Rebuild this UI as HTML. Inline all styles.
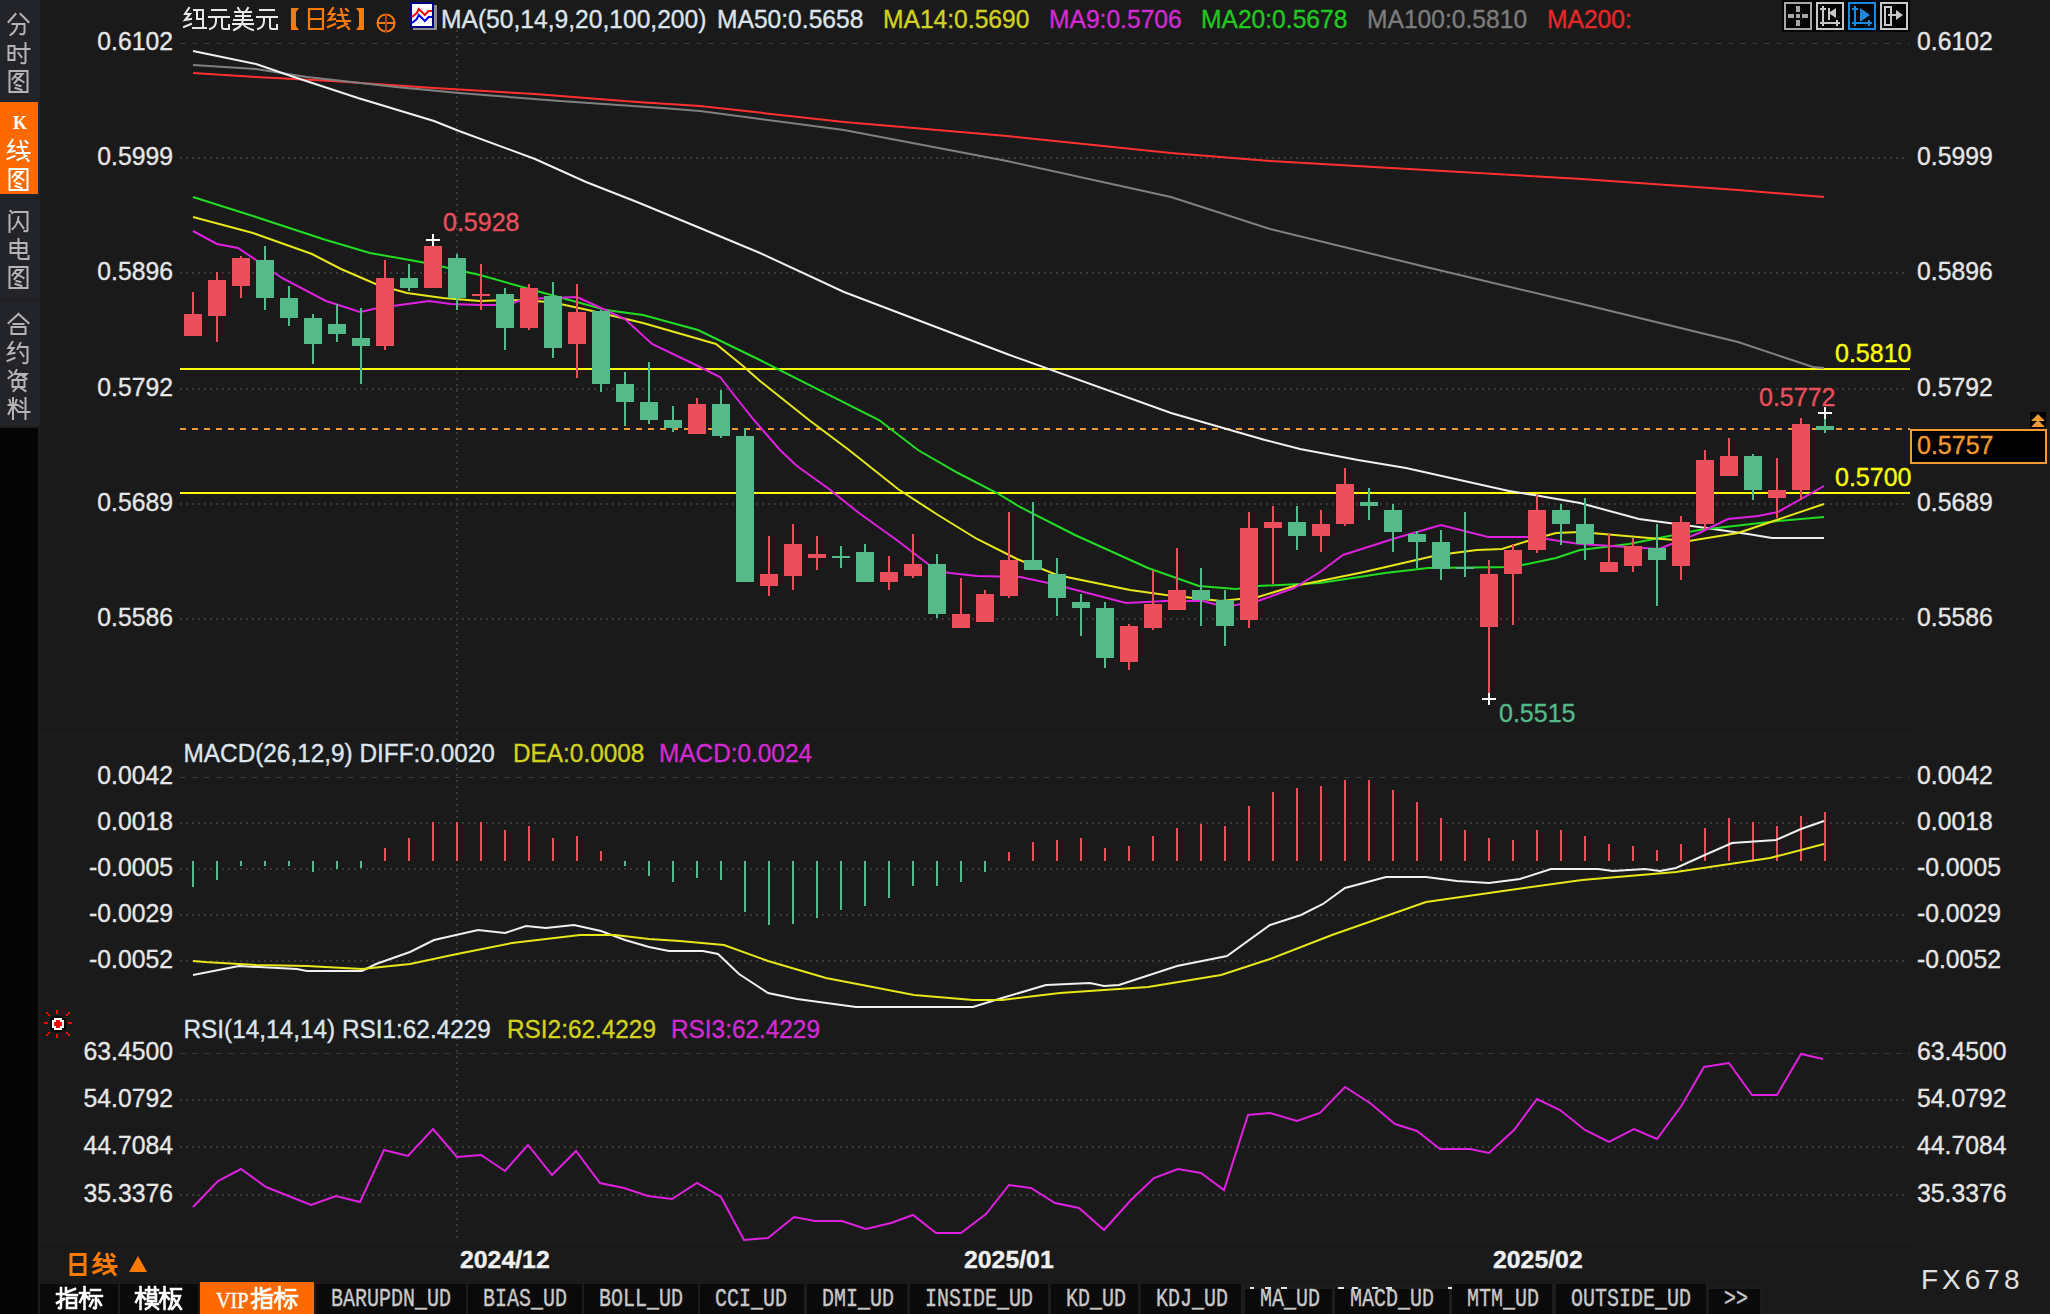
<!DOCTYPE html>
<html><head><meta charset="utf-8"><style>
html,body{margin:0;padding:0;background:#000;}
body{width:2050px;height:1314px;overflow:hidden;position:relative;font-family:"Liberation Sans",sans-serif;}
svg{position:absolute;left:0;top:0;}
</style></head><body>
<div style="position:absolute;left:0;top:0;width:38px;height:1314px;background:#000"></div>
<div style="position:absolute;left:0;top:0;width:38px;height:428px;background:#1a1a1a"></div>
<svg width="2050" height="1314" viewBox="0 0 2050 1314" style="left:0;top:0">
<rect x="0" y="0" width="2050" height="1314" fill="#1a1a1a"/>
<rect x="0" y="0" width="40" height="1314" fill="#1d1d1d"/>
<rect x="0" y="428" width="38" height="886" fill="#050505"/>
<rect x="38" y="734" width="1875" height="1" fill="#202020"/>
<rect x="38" y="1241" width="1875" height="1" fill="#222"/>
<line x1="180" y1="43.5" x2="1910" y2="43.5" stroke="#3a3a3a" stroke-width="1" stroke-dasharray="6 6"/>
<line x1="180" y1="158.0" x2="1908" y2="158.0" stroke="#383838" stroke-width="2" stroke-dasharray="2 4"/>
<line x1="180" y1="273.0" x2="1908" y2="273.0" stroke="#383838" stroke-width="2" stroke-dasharray="2 4"/>
<line x1="180" y1="389.0" x2="1908" y2="389.0" stroke="#383838" stroke-width="2" stroke-dasharray="2 4"/>
<line x1="180" y1="504.0" x2="1908" y2="504.0" stroke="#383838" stroke-width="2" stroke-dasharray="2 4"/>
<line x1="180" y1="619.0" x2="1908" y2="619.0" stroke="#383838" stroke-width="2" stroke-dasharray="2 4"/>
<line x1="180" y1="777.5" x2="1910" y2="777.5" stroke="#3a3a3a" stroke-width="1" stroke-dasharray="6 6"/>
<line x1="180" y1="823.0" x2="1908" y2="823.0" stroke="#383838" stroke-width="2" stroke-dasharray="2 4"/>
<line x1="180" y1="869.0" x2="1908" y2="869.0" stroke="#383838" stroke-width="2" stroke-dasharray="2 4"/>
<line x1="180" y1="915.0" x2="1908" y2="915.0" stroke="#383838" stroke-width="2" stroke-dasharray="2 4"/>
<line x1="180" y1="961.0" x2="1908" y2="961.0" stroke="#383838" stroke-width="2" stroke-dasharray="2 4"/>
<line x1="180" y1="1053.5" x2="1910" y2="1053.5" stroke="#3a3a3a" stroke-width="1" stroke-dasharray="6 6"/>
<line x1="180" y1="1100.0" x2="1908" y2="1100.0" stroke="#383838" stroke-width="2" stroke-dasharray="2 4"/>
<line x1="180" y1="1147.0" x2="1908" y2="1147.0" stroke="#383838" stroke-width="2" stroke-dasharray="2 4"/>
<line x1="180" y1="1195.0" x2="1908" y2="1195.0" stroke="#383838" stroke-width="2" stroke-dasharray="2 4"/>
<line x1="457" y1="30" x2="457" y2="1241" stroke="#3a3a3a" stroke-width="2" stroke-dasharray="2 4"/>
<rect x="180" y="368" width="1730" height="2" fill="#ffff00"/>
<rect x="180" y="492" width="1730" height="2" fill="#ffff00"/>
<line x1="180" y1="429" x2="1910" y2="429" stroke="#f39a30" stroke-width="2" stroke-dasharray="6 6"/>
<polyline points="193,73 256,77 332,81 434,88 535,94 637,102 700,106 844,122 1007,136 1171,153 1270,161 1426,170 1582,179 1738,190 1824,197" fill="none" stroke="#ff3030" stroke-width="2"/>
<polyline points="193,65 256,69 307,77 396,87 459,93 560,101 662,108 700,111 844,130 1007,161 1171,197 1270,229 1426,267 1582,304 1738,342 1813,367 1824,368" fill="none" stroke="#808080" stroke-width="2"/>
<polyline points="193,51 256,64 294,77 358,98 434,121 459,131 535,159 586,182 637,202 700,228 760,253 844,292 1007,354 1171,413 1265,440 1300,449 1358,460 1406,468 1509,491 1534,495 1580,503 1639,519 1699,527 1748,534 1772,538 1824,538" fill="none" stroke="#f0f0f0" stroke-width="2"/>
<polyline points="193,197 253,216 326,240 370,253 421,262 480,275 533,290 606,310 643,315 698,330 760,360 879,420 918,450 958,473 997,493 1020,507 1075,535 1148,568 1199,586 1236,589 1258,586 1320,583 1385,573 1428,568 1513,567 1556,558 1580,550 1629,544 1699,530 1778,521 1824,517" fill="none" stroke="#22dd22" stroke-width="2"/>
<polyline points="193,217 253,233 312,254 341,269 378,285 407,293 443,298 480,301 512,300 551,302 588,310 643,323 716,344 743,366 760,381 809,420 849,450 898,489 938,515 977,539 1017,559 1057,575 1130,590 1166,595 1221,601 1258,597 1294,586 1320,581 1364,572 1438,555 1477,550 1502,549 1534,539 1556,533 1580,532 1649,538 1689,541 1738,533 1824,504" fill="none" stroke="#e6e619" stroke-width="2"/>
<polyline points="193,231 217,244 238,248 256,260 282,278 326,301 360,312 378,308 400,305 429,301 451,304 480,305 508,305 524,299 577,297 599,307 625,319 652,344 698,366 720,377 734,395 754,420 780,450 797,466 829,489 859,513 898,541 928,564 936,571 950,573 977,576 1020,577 1053,584 1126,603 1166,601 1203,601 1225,607 1258,601 1294,588 1320,572 1343,555 1396,538 1441,525 1488,537 1534,537 1566,542 1580,544 1659,549 1699,533 1728,519 1758,516 1778,512 1824,486" fill="none" stroke="#e020e0" stroke-width="2"/>
<rect x="192" y="292" width="2" height="44" fill="#eb4f5c"/>
<rect x="184" y="314" width="18" height="22" fill="#eb4f5c"/>
<rect x="216" y="272" width="2" height="70" fill="#eb4f5c"/>
<rect x="208" y="280" width="18" height="36" fill="#eb4f5c"/>
<rect x="240" y="256" width="2" height="42" fill="#eb4f5c"/>
<rect x="232" y="258" width="18" height="28" fill="#eb4f5c"/>
<rect x="264" y="246" width="2" height="64" fill="#55b98a"/>
<rect x="256" y="260" width="18" height="38" fill="#55b98a"/>
<rect x="288" y="286" width="2" height="40" fill="#55b98a"/>
<rect x="280" y="298" width="18" height="20" fill="#55b98a"/>
<rect x="312" y="314" width="2" height="50" fill="#55b98a"/>
<rect x="304" y="318" width="18" height="26" fill="#55b98a"/>
<rect x="336" y="304" width="2" height="38" fill="#55b98a"/>
<rect x="328" y="324" width="18" height="10" fill="#55b98a"/>
<rect x="360" y="308" width="2" height="76" fill="#55b98a"/>
<rect x="352" y="338" width="18" height="8" fill="#55b98a"/>
<rect x="384" y="260" width="2" height="90" fill="#eb4f5c"/>
<rect x="376" y="278" width="18" height="68" fill="#eb4f5c"/>
<rect x="408" y="264" width="2" height="27" fill="#55b98a"/>
<rect x="400" y="278" width="18" height="10" fill="#55b98a"/>
<rect x="432" y="242" width="2" height="46" fill="#eb4f5c"/>
<rect x="424" y="246" width="18" height="42" fill="#eb4f5c"/>
<rect x="456" y="254" width="2" height="56" fill="#55b98a"/>
<rect x="448" y="258" width="18" height="40" fill="#55b98a"/>
<rect x="480" y="264" width="2" height="46" fill="#eb4f5c"/>
<rect x="472" y="294" width="18" height="2" fill="#eb4f5c"/>
<rect x="504" y="288" width="2" height="62" fill="#55b98a"/>
<rect x="496" y="294" width="18" height="34" fill="#55b98a"/>
<rect x="528" y="284" width="2" height="46" fill="#eb4f5c"/>
<rect x="520" y="288" width="18" height="40" fill="#eb4f5c"/>
<rect x="552" y="282" width="2" height="76" fill="#55b98a"/>
<rect x="544" y="296" width="18" height="52" fill="#55b98a"/>
<rect x="576" y="284" width="2" height="94" fill="#eb4f5c"/>
<rect x="568" y="312" width="18" height="32" fill="#eb4f5c"/>
<rect x="600" y="310" width="2" height="82" fill="#55b98a"/>
<rect x="592" y="311" width="18" height="73" fill="#55b98a"/>
<rect x="624" y="372" width="2" height="54" fill="#55b98a"/>
<rect x="616" y="384" width="18" height="18" fill="#55b98a"/>
<rect x="648" y="362" width="2" height="62" fill="#55b98a"/>
<rect x="640" y="402" width="18" height="18" fill="#55b98a"/>
<rect x="672" y="406" width="2" height="26" fill="#55b98a"/>
<rect x="664" y="420" width="18" height="8" fill="#55b98a"/>
<rect x="696" y="398" width="2" height="36" fill="#eb4f5c"/>
<rect x="688" y="404" width="18" height="30" fill="#eb4f5c"/>
<rect x="720" y="390" width="2" height="48" fill="#55b98a"/>
<rect x="712" y="404" width="18" height="32" fill="#55b98a"/>
<rect x="744" y="428" width="2" height="154" fill="#55b98a"/>
<rect x="736" y="436" width="18" height="146" fill="#55b98a"/>
<rect x="768" y="536" width="2" height="60" fill="#eb4f5c"/>
<rect x="760" y="574" width="18" height="12" fill="#eb4f5c"/>
<rect x="792" y="524" width="2" height="66" fill="#eb4f5c"/>
<rect x="784" y="544" width="18" height="32" fill="#eb4f5c"/>
<rect x="816" y="536" width="2" height="34" fill="#eb4f5c"/>
<rect x="808" y="554" width="18" height="4" fill="#eb4f5c"/>
<rect x="840" y="546" width="2" height="22" fill="#55b98a"/>
<rect x="832" y="556" width="18" height="2" fill="#55b98a"/>
<rect x="864" y="544" width="2" height="38" fill="#55b98a"/>
<rect x="856" y="552" width="18" height="30" fill="#55b98a"/>
<rect x="888" y="556" width="2" height="34" fill="#eb4f5c"/>
<rect x="880" y="572" width="18" height="10" fill="#eb4f5c"/>
<rect x="912" y="534" width="2" height="44" fill="#eb4f5c"/>
<rect x="904" y="564" width="18" height="12" fill="#eb4f5c"/>
<rect x="936" y="554" width="2" height="64" fill="#55b98a"/>
<rect x="928" y="564" width="18" height="50" fill="#55b98a"/>
<rect x="960" y="578" width="2" height="50" fill="#eb4f5c"/>
<rect x="952" y="614" width="18" height="14" fill="#eb4f5c"/>
<rect x="984" y="590" width="2" height="32" fill="#eb4f5c"/>
<rect x="976" y="594" width="18" height="28" fill="#eb4f5c"/>
<rect x="1008" y="512" width="2" height="86" fill="#eb4f5c"/>
<rect x="1000" y="560" width="18" height="36" fill="#eb4f5c"/>
<rect x="1032" y="502" width="2" height="68" fill="#55b98a"/>
<rect x="1024" y="560" width="18" height="10" fill="#55b98a"/>
<rect x="1056" y="558" width="2" height="58" fill="#55b98a"/>
<rect x="1048" y="574" width="18" height="24" fill="#55b98a"/>
<rect x="1080" y="594" width="2" height="42" fill="#55b98a"/>
<rect x="1072" y="602" width="18" height="6" fill="#55b98a"/>
<rect x="1104" y="602" width="2" height="66" fill="#55b98a"/>
<rect x="1096" y="608" width="18" height="50" fill="#55b98a"/>
<rect x="1128" y="624" width="2" height="46" fill="#eb4f5c"/>
<rect x="1120" y="626" width="18" height="36" fill="#eb4f5c"/>
<rect x="1152" y="570" width="2" height="60" fill="#eb4f5c"/>
<rect x="1144" y="604" width="18" height="24" fill="#eb4f5c"/>
<rect x="1176" y="548" width="2" height="62" fill="#eb4f5c"/>
<rect x="1168" y="590" width="18" height="20" fill="#eb4f5c"/>
<rect x="1200" y="568" width="2" height="58" fill="#55b98a"/>
<rect x="1192" y="590" width="18" height="10" fill="#55b98a"/>
<rect x="1224" y="590" width="2" height="56" fill="#55b98a"/>
<rect x="1216" y="600" width="18" height="26" fill="#55b98a"/>
<rect x="1248" y="512" width="2" height="116" fill="#eb4f5c"/>
<rect x="1240" y="528" width="18" height="92" fill="#eb4f5c"/>
<rect x="1272" y="506" width="2" height="78" fill="#eb4f5c"/>
<rect x="1264" y="522" width="18" height="6" fill="#eb4f5c"/>
<rect x="1296" y="506" width="2" height="44" fill="#55b98a"/>
<rect x="1288" y="522" width="18" height="14" fill="#55b98a"/>
<rect x="1320" y="510" width="2" height="42" fill="#eb4f5c"/>
<rect x="1312" y="524" width="18" height="12" fill="#eb4f5c"/>
<rect x="1344" y="468" width="2" height="58" fill="#eb4f5c"/>
<rect x="1336" y="484" width="18" height="40" fill="#eb4f5c"/>
<rect x="1368" y="488" width="2" height="32" fill="#55b98a"/>
<rect x="1360" y="502" width="18" height="4" fill="#55b98a"/>
<rect x="1392" y="504" width="2" height="48" fill="#55b98a"/>
<rect x="1384" y="510" width="18" height="22" fill="#55b98a"/>
<rect x="1416" y="531" width="2" height="37" fill="#55b98a"/>
<rect x="1408" y="534" width="18" height="8" fill="#55b98a"/>
<rect x="1440" y="530" width="2" height="50" fill="#55b98a"/>
<rect x="1432" y="542" width="18" height="27" fill="#55b98a"/>
<rect x="1464" y="512" width="2" height="65" fill="#55b98a"/>
<rect x="1456" y="567" width="18" height="2" fill="#55b98a"/>
<rect x="1488" y="560" width="2" height="139" fill="#eb4f5c"/>
<rect x="1480" y="574" width="18" height="53" fill="#eb4f5c"/>
<rect x="1512" y="544" width="2" height="81" fill="#eb4f5c"/>
<rect x="1504" y="550" width="18" height="24" fill="#eb4f5c"/>
<rect x="1536" y="495" width="2" height="58" fill="#eb4f5c"/>
<rect x="1528" y="510" width="18" height="40" fill="#eb4f5c"/>
<rect x="1560" y="504" width="2" height="41" fill="#55b98a"/>
<rect x="1552" y="510" width="18" height="14" fill="#55b98a"/>
<rect x="1584" y="498" width="2" height="62" fill="#55b98a"/>
<rect x="1576" y="524" width="18" height="20" fill="#55b98a"/>
<rect x="1608" y="534" width="2" height="38" fill="#eb4f5c"/>
<rect x="1600" y="562" width="18" height="10" fill="#eb4f5c"/>
<rect x="1632" y="538" width="2" height="34" fill="#eb4f5c"/>
<rect x="1624" y="546" width="18" height="20" fill="#eb4f5c"/>
<rect x="1656" y="524" width="2" height="82" fill="#55b98a"/>
<rect x="1648" y="548" width="18" height="12" fill="#55b98a"/>
<rect x="1680" y="516" width="2" height="64" fill="#eb4f5c"/>
<rect x="1672" y="522" width="18" height="44" fill="#eb4f5c"/>
<rect x="1704" y="450" width="2" height="79" fill="#eb4f5c"/>
<rect x="1696" y="460" width="18" height="64" fill="#eb4f5c"/>
<rect x="1728" y="438" width="2" height="38" fill="#eb4f5c"/>
<rect x="1720" y="456" width="18" height="20" fill="#eb4f5c"/>
<rect x="1752" y="454" width="2" height="46" fill="#55b98a"/>
<rect x="1744" y="456" width="18" height="34" fill="#55b98a"/>
<rect x="1776" y="458" width="2" height="60" fill="#eb4f5c"/>
<rect x="1768" y="490" width="18" height="8" fill="#eb4f5c"/>
<rect x="1800" y="418" width="2" height="82" fill="#eb4f5c"/>
<rect x="1792" y="424" width="18" height="66" fill="#eb4f5c"/>
<rect x="1824" y="413" width="2" height="20" fill="#55b98a"/>
<rect x="1816" y="426" width="18" height="4" fill="#55b98a"/>
<rect x="426" y="239" width="14" height="2" fill="#fff"/><rect x="432" y="234" width="2" height="12" fill="#fff"/>
<rect x="1482" y="698" width="14" height="2" fill="#fff"/><rect x="1488" y="693" width="2" height="12" fill="#fff"/>
<rect x="1818" y="412" width="14" height="2" fill="#fff"/><rect x="1824" y="407" width="2" height="12" fill="#fff"/>
<rect x="192" y="861" width="2" height="26" fill="#55b98a"/>
<rect x="216" y="861" width="2" height="19" fill="#55b98a"/>
<rect x="240" y="861" width="2" height="5" fill="#55b98a"/>
<rect x="264" y="861" width="2" height="5" fill="#55b98a"/>
<rect x="288" y="861" width="2" height="5" fill="#55b98a"/>
<rect x="312" y="861" width="2" height="11" fill="#55b98a"/>
<rect x="336" y="861" width="2" height="8" fill="#55b98a"/>
<rect x="360" y="861" width="2" height="7" fill="#55b98a"/>
<rect x="384" y="848" width="2" height="13" fill="#eb4f5c"/>
<rect x="408" y="838" width="2" height="23" fill="#eb4f5c"/>
<rect x="432" y="822" width="2" height="39" fill="#eb4f5c"/>
<rect x="456" y="822" width="2" height="39" fill="#eb4f5c"/>
<rect x="480" y="822" width="2" height="39" fill="#eb4f5c"/>
<rect x="504" y="830" width="2" height="31" fill="#eb4f5c"/>
<rect x="528" y="826" width="2" height="35" fill="#eb4f5c"/>
<rect x="552" y="838" width="2" height="23" fill="#eb4f5c"/>
<rect x="576" y="836" width="2" height="25" fill="#eb4f5c"/>
<rect x="600" y="851" width="2" height="10" fill="#eb4f5c"/>
<rect x="624" y="861" width="2" height="5" fill="#55b98a"/>
<rect x="648" y="861" width="2" height="15" fill="#55b98a"/>
<rect x="672" y="861" width="2" height="21" fill="#55b98a"/>
<rect x="696" y="861" width="2" height="17" fill="#55b98a"/>
<rect x="720" y="861" width="2" height="19" fill="#55b98a"/>
<rect x="744" y="861" width="2" height="51" fill="#55b98a"/>
<rect x="768" y="861" width="2" height="64" fill="#55b98a"/>
<rect x="792" y="861" width="2" height="63" fill="#55b98a"/>
<rect x="816" y="861" width="2" height="57" fill="#55b98a"/>
<rect x="840" y="861" width="2" height="49" fill="#55b98a"/>
<rect x="864" y="861" width="2" height="45" fill="#55b98a"/>
<rect x="888" y="861" width="2" height="37" fill="#55b98a"/>
<rect x="912" y="861" width="2" height="25" fill="#55b98a"/>
<rect x="936" y="861" width="2" height="25" fill="#55b98a"/>
<rect x="960" y="861" width="2" height="21" fill="#55b98a"/>
<rect x="984" y="861" width="2" height="11" fill="#55b98a"/>
<rect x="1008" y="852" width="2" height="9" fill="#eb4f5c"/>
<rect x="1032" y="842" width="2" height="19" fill="#eb4f5c"/>
<rect x="1056" y="840" width="2" height="21" fill="#eb4f5c"/>
<rect x="1080" y="838" width="2" height="23" fill="#eb4f5c"/>
<rect x="1104" y="848" width="2" height="13" fill="#eb4f5c"/>
<rect x="1128" y="846" width="2" height="15" fill="#eb4f5c"/>
<rect x="1152" y="836" width="2" height="25" fill="#eb4f5c"/>
<rect x="1176" y="828" width="2" height="33" fill="#eb4f5c"/>
<rect x="1200" y="824" width="2" height="37" fill="#eb4f5c"/>
<rect x="1224" y="826" width="2" height="35" fill="#eb4f5c"/>
<rect x="1248" y="806" width="2" height="55" fill="#eb4f5c"/>
<rect x="1272" y="792" width="2" height="69" fill="#eb4f5c"/>
<rect x="1296" y="788" width="2" height="73" fill="#eb4f5c"/>
<rect x="1320" y="786" width="2" height="75" fill="#eb4f5c"/>
<rect x="1344" y="780" width="2" height="81" fill="#eb4f5c"/>
<rect x="1368" y="780" width="2" height="81" fill="#eb4f5c"/>
<rect x="1392" y="790" width="2" height="71" fill="#eb4f5c"/>
<rect x="1416" y="802" width="2" height="59" fill="#eb4f5c"/>
<rect x="1440" y="818" width="2" height="43" fill="#eb4f5c"/>
<rect x="1464" y="830" width="2" height="31" fill="#eb4f5c"/>
<rect x="1488" y="838" width="2" height="23" fill="#eb4f5c"/>
<rect x="1512" y="840" width="2" height="21" fill="#eb4f5c"/>
<rect x="1536" y="830" width="2" height="31" fill="#eb4f5c"/>
<rect x="1560" y="830" width="2" height="31" fill="#eb4f5c"/>
<rect x="1584" y="836" width="2" height="25" fill="#eb4f5c"/>
<rect x="1608" y="844" width="2" height="17" fill="#eb4f5c"/>
<rect x="1632" y="846" width="2" height="15" fill="#eb4f5c"/>
<rect x="1656" y="850" width="2" height="11" fill="#eb4f5c"/>
<rect x="1680" y="844" width="2" height="17" fill="#eb4f5c"/>
<rect x="1704" y="828" width="2" height="33" fill="#eb4f5c"/>
<rect x="1728" y="818" width="2" height="43" fill="#eb4f5c"/>
<rect x="1752" y="822" width="2" height="39" fill="#eb4f5c"/>
<rect x="1776" y="826" width="2" height="35" fill="#eb4f5c"/>
<rect x="1800" y="816" width="2" height="45" fill="#eb4f5c"/>
<rect x="1824" y="812" width="2" height="49" fill="#eb4f5c"/>
<polyline points="193,975 239,966 297,969 307,971 362,971 376,964 410,952 434,940 478,930 505,933 526,926 546,928 574,925 601,931 625,940 649,947 669,951 703,951 718,954 739,974 768,993 797,999 856,1007 973,1007 1002,998 1046,985 1090,983 1104,986 1119,985 1177,966 1227,956 1270,925 1301,915 1323,904 1345,888 1386,877 1426,877 1457,881 1489,883 1520,879 1551,869 1598,869 1613,871 1645,869 1660,871 1676,868 1707,854 1732,843 1776,840 1801,829 1824,821" fill="none" stroke="#f0f0f0" stroke-width="2"/>
<polyline points="193,961 205,962 256,965 307,966 362,969 410,964 457,954 512,943 580,935 615,935 649,939 680,941 724,945 768,961 826,978 914,995 973,1000 1002,1000 1060,993 1148,987 1221,975 1270,959 1332,935 1426,902 1489,893 1582,880 1676,872 1723,865 1770,858 1824,844" fill="none" stroke="#e6e619" stroke-width="2"/>
<polyline points="193,1207 218,1181 241,1169 266,1187 311,1205 336,1196 360,1202 384,1150 408,1156 433,1129 457,1157 481,1155 505,1171 528,1145 552,1175 576,1151 600,1183 624,1188 648,1196 672,1199 697,1183 721,1197 744,1240 768,1238 794,1217 815,1221 842,1221 866,1229 891,1223 913,1215 936,1233 961,1233 986,1214 1009,1185 1031,1188 1055,1203 1079,1208 1104,1230 1131,1200 1154,1178 1178,1169 1201,1173 1224,1190 1248,1115 1270,1113 1297,1121 1320,1113 1345,1087 1370,1103 1395,1124 1417,1131 1440,1149 1470,1149 1489,1153 1514,1130 1537,1099 1560,1110 1585,1130 1609,1142 1634,1129 1657,1139 1682,1105 1704,1067 1729,1063 1752,1095 1777,1095 1801,1054 1823,1059" fill="none" stroke="#e020e0" stroke-width="2"/>
<text transform="translate(173 50) scale(0.99 1)" x="0" y="0" fill="#e6e6e6" stroke="#e6e6e6" stroke-width="0.35" font-size="25" text-anchor="end" font-weight="normal" font-family="Liberation Sans">0.6102</text>
<text transform="translate(1917 50) scale(0.99 1)" x="0" y="0" fill="#e6e6e6" stroke="#e6e6e6" stroke-width="0.35" font-size="25" text-anchor="start" font-weight="normal" font-family="Liberation Sans">0.6102</text>
<text transform="translate(173 165) scale(0.99 1)" x="0" y="0" fill="#e6e6e6" stroke="#e6e6e6" stroke-width="0.35" font-size="25" text-anchor="end" font-weight="normal" font-family="Liberation Sans">0.5999</text>
<text transform="translate(1917 165) scale(0.99 1)" x="0" y="0" fill="#e6e6e6" stroke="#e6e6e6" stroke-width="0.35" font-size="25" text-anchor="start" font-weight="normal" font-family="Liberation Sans">0.5999</text>
<text transform="translate(173 280) scale(0.99 1)" x="0" y="0" fill="#e6e6e6" stroke="#e6e6e6" stroke-width="0.35" font-size="25" text-anchor="end" font-weight="normal" font-family="Liberation Sans">0.5896</text>
<text transform="translate(1917 280) scale(0.99 1)" x="0" y="0" fill="#e6e6e6" stroke="#e6e6e6" stroke-width="0.35" font-size="25" text-anchor="start" font-weight="normal" font-family="Liberation Sans">0.5896</text>
<text transform="translate(173 396) scale(0.99 1)" x="0" y="0" fill="#e6e6e6" stroke="#e6e6e6" stroke-width="0.35" font-size="25" text-anchor="end" font-weight="normal" font-family="Liberation Sans">0.5792</text>
<text transform="translate(1917 396) scale(0.99 1)" x="0" y="0" fill="#e6e6e6" stroke="#e6e6e6" stroke-width="0.35" font-size="25" text-anchor="start" font-weight="normal" font-family="Liberation Sans">0.5792</text>
<text transform="translate(173 511) scale(0.99 1)" x="0" y="0" fill="#e6e6e6" stroke="#e6e6e6" stroke-width="0.35" font-size="25" text-anchor="end" font-weight="normal" font-family="Liberation Sans">0.5689</text>
<text transform="translate(1917 511) scale(0.99 1)" x="0" y="0" fill="#e6e6e6" stroke="#e6e6e6" stroke-width="0.35" font-size="25" text-anchor="start" font-weight="normal" font-family="Liberation Sans">0.5689</text>
<text transform="translate(173 626) scale(0.99 1)" x="0" y="0" fill="#e6e6e6" stroke="#e6e6e6" stroke-width="0.35" font-size="25" text-anchor="end" font-weight="normal" font-family="Liberation Sans">0.5586</text>
<text transform="translate(1917 626) scale(0.99 1)" x="0" y="0" fill="#e6e6e6" stroke="#e6e6e6" stroke-width="0.35" font-size="25" text-anchor="start" font-weight="normal" font-family="Liberation Sans">0.5586</text>
<text transform="translate(173 784) scale(0.99 1)" x="0" y="0" fill="#e6e6e6" stroke="#e6e6e6" stroke-width="0.35" font-size="25" text-anchor="end" font-weight="normal" font-family="Liberation Sans">0.0042</text>
<text transform="translate(1917 784) scale(0.99 1)" x="0" y="0" fill="#e6e6e6" stroke="#e6e6e6" stroke-width="0.35" font-size="25" text-anchor="start" font-weight="normal" font-family="Liberation Sans">0.0042</text>
<text transform="translate(173 830) scale(0.99 1)" x="0" y="0" fill="#e6e6e6" stroke="#e6e6e6" stroke-width="0.35" font-size="25" text-anchor="end" font-weight="normal" font-family="Liberation Sans">0.0018</text>
<text transform="translate(1917 830) scale(0.99 1)" x="0" y="0" fill="#e6e6e6" stroke="#e6e6e6" stroke-width="0.35" font-size="25" text-anchor="start" font-weight="normal" font-family="Liberation Sans">0.0018</text>
<text transform="translate(173 876) scale(0.99 1)" x="0" y="0" fill="#e6e6e6" stroke="#e6e6e6" stroke-width="0.35" font-size="25" text-anchor="end" font-weight="normal" font-family="Liberation Sans">-0.0005</text>
<text transform="translate(1917 876) scale(0.99 1)" x="0" y="0" fill="#e6e6e6" stroke="#e6e6e6" stroke-width="0.35" font-size="25" text-anchor="start" font-weight="normal" font-family="Liberation Sans">-0.0005</text>
<text transform="translate(173 922) scale(0.99 1)" x="0" y="0" fill="#e6e6e6" stroke="#e6e6e6" stroke-width="0.35" font-size="25" text-anchor="end" font-weight="normal" font-family="Liberation Sans">-0.0029</text>
<text transform="translate(1917 922) scale(0.99 1)" x="0" y="0" fill="#e6e6e6" stroke="#e6e6e6" stroke-width="0.35" font-size="25" text-anchor="start" font-weight="normal" font-family="Liberation Sans">-0.0029</text>
<text transform="translate(173 968) scale(0.99 1)" x="0" y="0" fill="#e6e6e6" stroke="#e6e6e6" stroke-width="0.35" font-size="25" text-anchor="end" font-weight="normal" font-family="Liberation Sans">-0.0052</text>
<text transform="translate(1917 968) scale(0.99 1)" x="0" y="0" fill="#e6e6e6" stroke="#e6e6e6" stroke-width="0.35" font-size="25" text-anchor="start" font-weight="normal" font-family="Liberation Sans">-0.0052</text>
<text transform="translate(173 1060) scale(0.99 1)" x="0" y="0" fill="#e6e6e6" stroke="#e6e6e6" stroke-width="0.35" font-size="25" text-anchor="end" font-weight="normal" font-family="Liberation Sans">63.4500</text>
<text transform="translate(1917 1060) scale(0.99 1)" x="0" y="0" fill="#e6e6e6" stroke="#e6e6e6" stroke-width="0.35" font-size="25" text-anchor="start" font-weight="normal" font-family="Liberation Sans">63.4500</text>
<text transform="translate(173 1107) scale(0.99 1)" x="0" y="0" fill="#e6e6e6" stroke="#e6e6e6" stroke-width="0.35" font-size="25" text-anchor="end" font-weight="normal" font-family="Liberation Sans">54.0792</text>
<text transform="translate(1917 1107) scale(0.99 1)" x="0" y="0" fill="#e6e6e6" stroke="#e6e6e6" stroke-width="0.35" font-size="25" text-anchor="start" font-weight="normal" font-family="Liberation Sans">54.0792</text>
<text transform="translate(173 1154) scale(0.99 1)" x="0" y="0" fill="#e6e6e6" stroke="#e6e6e6" stroke-width="0.35" font-size="25" text-anchor="end" font-weight="normal" font-family="Liberation Sans">44.7084</text>
<text transform="translate(1917 1154) scale(0.99 1)" x="0" y="0" fill="#e6e6e6" stroke="#e6e6e6" stroke-width="0.35" font-size="25" text-anchor="start" font-weight="normal" font-family="Liberation Sans">44.7084</text>
<text transform="translate(173 1202) scale(0.99 1)" x="0" y="0" fill="#e6e6e6" stroke="#e6e6e6" stroke-width="0.35" font-size="25" text-anchor="end" font-weight="normal" font-family="Liberation Sans">35.3376</text>
<text transform="translate(1917 1202) scale(0.99 1)" x="0" y="0" fill="#e6e6e6" stroke="#e6e6e6" stroke-width="0.35" font-size="25" text-anchor="start" font-weight="normal" font-family="Liberation Sans">35.3376</text>
<text x="443" y="231" fill="#eb4f5c" stroke="#eb4f5c" stroke-width="0.35" font-size="25" text-anchor="start" font-weight="normal" font-family="Liberation Sans">0.5928</text>
<text x="1499" y="722" fill="#55b98a" stroke="#55b98a" stroke-width="0.35" font-size="25" text-anchor="start" font-weight="normal" font-family="Liberation Sans">0.5515</text>
<text x="1759" y="406" fill="#eb4f5c" stroke="#eb4f5c" stroke-width="0.35" font-size="25" text-anchor="start" font-weight="normal" font-family="Liberation Sans">0.5772</text>
<text x="1835" y="362" fill="#ffff00" stroke="#ffff00" stroke-width="0.35" font-size="25" text-anchor="start" font-weight="normal" font-family="Liberation Sans">0.5810</text>
<text x="1835" y="486" fill="#ffff00" stroke="#ffff00" stroke-width="0.35" font-size="25" text-anchor="start" font-weight="normal" font-family="Liberation Sans">0.5700</text>
<rect x="1911" y="430" width="135" height="33" fill="#000" stroke="#f39a30" stroke-width="2"/>
<text x="1917" y="454" fill="#f39a30" stroke="#f39a30" stroke-width="0.35" font-size="25" text-anchor="start" font-weight="normal" font-family="Liberation Sans">0.5757</text>
<rect x="2030" y="412" width="16" height="16" fill="#000"/><path d="M2038 414 L2045 421 L2031 421 Z M2038 420 L2045 427 L2031 427 Z" fill="#f39a30"/>
<path transform="translate(183.00,7.00) scale(1.0000)" d="M6,1 L2,7 L7,7 L2,13 L8,12 M1,20 L8,17 M11,3 H20 V21 M14,3 V12 H20 M10,21 H23" fill="none" stroke="#e8e8e8" stroke-width="2.000" stroke-linecap="square" stroke-linejoin="miter"/>
<path transform="translate(207.00,7.00) scale(1.0000)" d="M5,3 H19 M2,10 H22 M9,10 V14 Q9,20 3,22 M15,10 V20 Q15,22 17,22 H22 V18" fill="none" stroke="#e8e8e8" stroke-width="2.000" stroke-linecap="square" stroke-linejoin="miter"/>
<path transform="translate(231.00,7.00) scale(1.0000)" d="M7,1 L9,4 M17,1 L15,4 M4,5 H20 M5,9 H19 M3,13 H21 M12,5 V13 M2,17 H22 M12,13 Q11,20 3,23 M12,17 Q15,21 22,23" fill="none" stroke="#e8e8e8" stroke-width="2.000" stroke-linecap="square" stroke-linejoin="miter"/>
<path transform="translate(255.00,7.00) scale(1.0000)" d="M5,3 H19 M2,10 H22 M9,10 V14 Q9,20 3,22 M15,10 V20 Q15,22 17,22 H22 V18" fill="none" stroke="#e8e8e8" stroke-width="2.000" stroke-linecap="square" stroke-linejoin="miter"/>
<path transform="translate(289.00,7.00) scale(1.0000)" d="M10,1 H2 V23 H10 L7,19 V5 Z" fill="#ff7a00"/>
<path transform="translate(304.00,7.00) scale(1.0000)" d="M5,2 H19 V22 H5 Z M5,12 H19" fill="none" stroke="#ff7a00" stroke-width="2.200" stroke-linecap="square" stroke-linejoin="miter"/>
<path transform="translate(327.00,7.00) scale(1.0000)" d="M6,1 L2,7 L7,7 L2,13 L8,12 M1,20 L8,17 M11,8 H20 M10,14 H23 M14,2 Q16,16 22,22 M19,2 L21,4 M11,21 L20,17" fill="none" stroke="#ff7a00" stroke-width="2.200" stroke-linecap="square" stroke-linejoin="miter"/>
<path transform="translate(356.00,7.00) scale(1.0000)" d="M0,1 H8 V23 H0 L3,19 V5 Z" fill="#ff7a00"/>
<circle cx="386" cy="23" r="8.5" fill="none" stroke="#ff7a00" stroke-width="2"/><rect x="377" y="22" width="18" height="2" fill="#ff7a00"/><rect x="385" y="14" width="2" height="18" fill="#c04020"/>
<rect x="413" y="5" width="24" height="25" fill="#909090"/><rect x="410" y="2" width="24" height="26" fill="#000080"/><rect x="412" y="4" width="20" height="22" fill="#fff"/>
<polyline points="412,17 416.8,13 418.8,9 424.9,15 428.5,11 432,11" fill="none" stroke="#f00" stroke-width="2"/>
<polyline points="412,23 416.8,19 418.8,15 424.9,21 428.5,17 432,17" fill="none" stroke="#00f" stroke-width="2"/>
<text transform="translate(441 28) scale(0.985 1)" x="0" y="0" fill="#dce4ec" stroke="#dce4ec" stroke-width="0.35" font-size="25" text-anchor="start" font-weight="normal" font-family="Liberation Sans">MA(50,14,9,20,100,200)</text>
<text transform="translate(717 28) scale(0.985 1)" x="0" y="0" fill="#dce4ec" stroke="#dce4ec" stroke-width="0.35" font-size="25" text-anchor="start" font-weight="normal" font-family="Liberation Sans">MA50:0.5658</text>
<text transform="translate(883 28) scale(0.985 1)" x="0" y="0" fill="#d2d21e" stroke="#d2d21e" stroke-width="0.35" font-size="25" text-anchor="start" font-weight="normal" font-family="Liberation Sans">MA14:0.5690</text>
<text transform="translate(1049 28) scale(0.985 1)" x="0" y="0" fill="#d22ad2" stroke="#d22ad2" stroke-width="0.35" font-size="25" text-anchor="start" font-weight="normal" font-family="Liberation Sans">MA9:0.5706</text>
<text transform="translate(1201 28) scale(0.985 1)" x="0" y="0" fill="#22c822" stroke="#22c822" stroke-width="0.35" font-size="25" text-anchor="start" font-weight="normal" font-family="Liberation Sans">MA20:0.5678</text>
<text transform="translate(1367 28) scale(0.985 1)" x="0" y="0" fill="#7c7c7c" stroke="#7c7c7c" stroke-width="0.35" font-size="25" text-anchor="start" font-weight="normal" font-family="Liberation Sans">MA100:0.5810</text>
<text transform="translate(1547 28) scale(0.985 1)" x="0" y="0" fill="#e62828" stroke="#e62828" stroke-width="0.35" font-size="25" text-anchor="start" font-weight="normal" font-family="Liberation Sans">MA200:</text>
<text transform="translate(183.5 762) scale(0.975 1)" x="0" y="0" fill="#dce4ec" stroke="#dce4ec" stroke-width="0.35" font-size="25" text-anchor="start" font-weight="normal" font-family="Liberation Sans">MACD(26,12,9) DIFF:0.0020</text>
<text transform="translate(513 762) scale(0.975 1)" x="0" y="0" fill="#d2d21e" stroke="#d2d21e" stroke-width="0.35" font-size="25" text-anchor="start" font-weight="normal" font-family="Liberation Sans">DEA:0.0008</text>
<text transform="translate(659 762) scale(0.975 1)" x="0" y="0" fill="#d22ad2" stroke="#d22ad2" stroke-width="0.35" font-size="25" text-anchor="start" font-weight="normal" font-family="Liberation Sans">MACD:0.0024</text>
<text transform="translate(183.5 1038) scale(0.975 1)" x="0" y="0" fill="#dce4ec" stroke="#dce4ec" stroke-width="0.35" font-size="25" text-anchor="start" font-weight="normal" font-family="Liberation Sans">RSI(14,14,14) RSI1:62.4229</text>
<text transform="translate(507 1038) scale(0.975 1)" x="0" y="0" fill="#d2d21e" stroke="#d2d21e" stroke-width="0.35" font-size="25" text-anchor="start" font-weight="normal" font-family="Liberation Sans">RSI2:62.4229</text>
<text transform="translate(671 1038) scale(0.975 1)" x="0" y="0" fill="#d22ad2" stroke="#d22ad2" stroke-width="0.35" font-size="25" text-anchor="start" font-weight="normal" font-family="Liberation Sans">RSI3:62.4229</text>
<text transform="translate(460 1268) scale(1.035 1)" x="0" y="0" fill="#f0f0f0" stroke="#f0f0f0" stroke-width="0.35" font-size="24" text-anchor="start" font-weight="bold" font-family="Liberation Sans">2024/12</text>
<text transform="translate(964 1268) scale(1.035 1)" x="0" y="0" fill="#f0f0f0" stroke="#f0f0f0" stroke-width="0.35" font-size="24" text-anchor="start" font-weight="bold" font-family="Liberation Sans">2025/01</text>
<text transform="translate(1493 1268) scale(1.035 1)" x="0" y="0" fill="#f0f0f0" stroke="#f0f0f0" stroke-width="0.35" font-size="24" text-anchor="start" font-weight="bold" font-family="Liberation Sans">2025/02</text>
<path transform="translate(66.00,1252.50) scale(1.0000)" d="M5,2 H19 V22 H5 Z M5,12 H19" fill="none" stroke="#ff7a00" stroke-width="3.000" stroke-linecap="square" stroke-linejoin="miter"/>
<path transform="translate(93.00,1252.50) scale(1.0000)" d="M6,1 L2,7 L7,7 L2,13 L8,12 M1,20 L8,17 M11,8 H20 M10,14 H23 M14,2 Q16,16 22,22 M19,2 L21,4 M11,21 L20,17" fill="none" stroke="#ff7a00" stroke-width="3.000" stroke-linecap="square" stroke-linejoin="miter"/>
<path d="M138 1256 L147 1272 L129 1272 Z" fill="#ff7a00"/>
<path d="M52 1016 H64 V1018 H66 V1030 H64 V1032 H52 V1030 H50 V1018 H52 Z" fill="#000"/>
<path d="M54 1018 H62 V1020 H64 V1028 H62 V1030 H54 V1028 H52 V1020 H54 Z" fill="#fff"/>
<path d="M56 1020 H60 V1022 H62 V1026 H60 V1028 H56 V1026 H54 V1022 H56 Z" fill="#f00"/>
<rect x="56" y="1010" width="2" height="4" fill="#f00"/>
<rect x="56" y="1034" width="2" height="4" fill="#f00"/>
<rect x="44" y="1022" width="4" height="2" fill="#f00"/>
<rect x="68" y="1022" width="4" height="2" fill="#f00"/>
<rect x="46" y="1012" width="2" height="2" fill="#f00"/>
<rect x="48" y="1014" width="2" height="2" fill="#f00"/>
<rect x="68" y="1012" width="2" height="2" fill="#f00"/>
<rect x="66" y="1014" width="2" height="2" fill="#f00"/>
<rect x="48" y="1032" width="2" height="2" fill="#f00"/>
<rect x="46" y="1034" width="2" height="2" fill="#f00"/>
<rect x="66" y="1032" width="2" height="2" fill="#f00"/>
<rect x="68" y="1034" width="2" height="2" fill="#f00"/>
<rect x="1782" y="0" width="128" height="32" fill="#050505"/>
<path d="M1784 2 h28 v28 h-28 Z M1786 4 v24 h24 v-24 Z" fill="#a8a8a8" fill-rule="evenodd"/>
<path d="M1816 2 h28 v28 h-28 Z M1818 4 v24 h24 v-24 Z" fill="#c8c8c8" fill-rule="evenodd"/>
<path d="M1848 2 h28 v28 h-28 Z M1850 4 v24 h24 v-24 Z" fill="#1a8ae0" fill-rule="evenodd"/>
<path d="M1880 2 h28 v28 h-28 Z M1882 4 v24 h24 v-24 Z" fill="#c8c8c8" fill-rule="evenodd"/>
<rect x="1796" y="6" width="4" height="6" fill="#a8a8a8"/>
<rect x="1796" y="14" width="4" height="4" fill="#a8a8a8"/>
<rect x="1788" y="14" width="6" height="4" fill="#a8a8a8"/>
<rect x="1802" y="14" width="6" height="4" fill="#a8a8a8"/>
<rect x="1796" y="20" width="4" height="6" fill="#a8a8a8"/>
<rect x="1822" y="6" width="2" height="20" fill="#c8c8c8"/>
<rect x="1820" y="8" width="6" height="2" fill="#c8c8c8"/>
<rect x="1820" y="22" width="20" height="2" fill="#c8c8c8"/>
<rect x="1836" y="20" width="2" height="6" fill="#c8c8c8"/>
<rect x="1828" y="8" width="2" height="12" fill="#c8c8c8"/>
<path d="M1830 12 L1836 8 V18 L1830 14 Z" fill="#c8c8c8"/>
<rect x="1854" y="6" width="2" height="20" fill="#1a8ae0"/>
<rect x="1852" y="8" width="6" height="2" fill="#1a8ae0"/>
<rect x="1852" y="22" width="20" height="2" fill="#1a8ae0"/>
<rect x="1868" y="20" width="2" height="6" fill="#1a8ae0"/>
<path d="M1860 8 L1870 15 L1860 22 Z" fill="#1a8ae0"/>
<path d="M1884 6 h8 v20 h-8 Z M1886 8 v16 h4 v-16 Z" fill="#c8c8c8" fill-rule="evenodd"/>
<rect x="1888" y="14" width="10" height="2" fill="#c8c8c8"/>
<path d="M1896 10 L1903 15 L1896 20 Z" fill="#c8c8c8"/>
<rect x="40" y="1283" width="1722" height="31" fill="#1c1c1c"/>
<rect x="1250" y="1287" width="4" height="2" fill="#e0e0e0"/>
<rect x="1265" y="1287" width="6" height="2" fill="#e0e0e0"/>
<rect x="1281" y="1287" width="6" height="2" fill="#e0e0e0"/>
<rect x="1338" y="1287" width="6" height="2" fill="#e0e0e0"/>
<rect x="1352" y="1287" width="6" height="2" fill="#e0e0e0"/>
<rect x="1372" y="1287" width="6" height="2" fill="#e0e0e0"/>
<rect x="1386" y="1287" width="6" height="2" fill="#e0e0e0"/>
<rect x="1448" y="1287" width="6" height="2" fill="#e0e0e0"/>
<rect x="1462" y="1287" width="6" height="2" fill="#e0e0e0"/>
<rect x="40" y="1284" width="78" height="30" fill="#0a0a0a"/>
<path transform="translate(55.00,1286.00) scale(1.0000)" d="M2,8 H9 M6,2 V21 Q6,23 4,22 M2,17 L9,13 M11,2 V8 Q11,9 13,9 H22 M20,3 L12,6 M12,12 H21 V22 H12 Z M12,17 H21" fill="none" stroke="#ffffff" stroke-width="2.600" stroke-linecap="square" stroke-linejoin="miter"/>
<path transform="translate(79.00,1286.00) scale(1.0000)" d="M1,7 H10 M5.5,1 V23 M5,8 L1,16 M6,9 L10,13 M12,4 H21 M11,10 H23 M17,10 V21 Q17,23 15,22 M14,14 L11,20 M19,14 L22,19" fill="none" stroke="#ffffff" stroke-width="2.600" stroke-linecap="square" stroke-linejoin="miter"/>
<rect x="120" y="1284" width="78" height="30" fill="#0a0a0a"/>
<path transform="translate(135.00,1286.00) scale(1.0000)" d="M1,7 H10 M5.5,1 V23 M5,8 L1,16 M6,9 L10,13 M11,4 H23 M14,1 V6 M20,1 V6 M13,8 H21 V15 H13 Z M13,11.5 H21 M11,18 H23 M17,15 Q16,21 11,23 M17,18 L23,23" fill="none" stroke="#ffffff" stroke-width="2.600" stroke-linecap="square" stroke-linejoin="miter"/>
<path transform="translate(159.00,1286.00) scale(1.0000)" d="M1,7 H10 M5.5,1 V23 M5,8 L1,16 M6,9 L10,13 M12,3 H22 M13,3 V12 Q13,19 10,23 M14,10 H21 Q19,17 13,23 M15,13 L22,23" fill="none" stroke="#ffffff" stroke-width="2.600" stroke-linecap="square" stroke-linejoin="miter"/>
<rect x="200" y="1282" width="114" height="32" fill="#ff6a00"/>
<text transform="translate(216 1308) scale(0.88 1)" x="0" y="0" fill="#ffffff" stroke="#ffffff" stroke-width="0.35" font-size="23" text-anchor="start" font-weight="normal" font-family="Liberation Serif">VIP</text>
<path transform="translate(250.00,1286.00) scale(1.0000)" d="M2,8 H9 M6,2 V21 Q6,23 4,22 M2,17 L9,13 M11,2 V8 Q11,9 13,9 H22 M20,3 L12,6 M12,12 H21 V22 H12 Z M12,17 H21" fill="none" stroke="#ffffff" stroke-width="2.600" stroke-linecap="square" stroke-linejoin="miter"/>
<path transform="translate(274.00,1286.00) scale(1.0000)" d="M1,7 H10 M5.5,1 V23 M5,8 L1,16 M6,9 L10,13 M12,4 H21 M11,10 H23 M17,10 V21 Q17,23 15,22 M14,14 L11,20 M19,14 L22,19" fill="none" stroke="#ffffff" stroke-width="2.600" stroke-linecap="square" stroke-linejoin="miter"/>
<rect x="316" y="1284" width="150" height="30" fill="#0a0a0a"/>
<text transform="translate(331 1306) scale(1 1.25)" x="0" y="0" fill="#c8c8c8" stroke="#c8c8c8" stroke-width="0.3" font-size="20" font-family="Liberation Mono">BARUPDN_UD</text>
<rect x="468" y="1284" width="114" height="30" fill="#0a0a0a"/>
<text transform="translate(483 1306) scale(1 1.25)" x="0" y="0" fill="#c8c8c8" stroke="#c8c8c8" stroke-width="0.3" font-size="20" font-family="Liberation Mono">BIAS_UD</text>
<rect x="584" y="1284" width="114" height="30" fill="#0a0a0a"/>
<text transform="translate(599 1306) scale(1 1.25)" x="0" y="0" fill="#c8c8c8" stroke="#c8c8c8" stroke-width="0.3" font-size="20" font-family="Liberation Mono">BOLL_UD</text>
<rect x="700" y="1284" width="104" height="30" fill="#0a0a0a"/>
<text transform="translate(715 1306) scale(1 1.25)" x="0" y="0" fill="#c8c8c8" stroke="#c8c8c8" stroke-width="0.3" font-size="20" font-family="Liberation Mono">CCI_UD</text>
<rect x="807" y="1284" width="100" height="30" fill="#0a0a0a"/>
<text transform="translate(822 1306) scale(1 1.25)" x="0" y="0" fill="#c8c8c8" stroke="#c8c8c8" stroke-width="0.3" font-size="20" font-family="Liberation Mono">DMI_UD</text>
<rect x="910" y="1284" width="138" height="30" fill="#0a0a0a"/>
<text transform="translate(925 1306) scale(1 1.25)" x="0" y="0" fill="#c8c8c8" stroke="#c8c8c8" stroke-width="0.3" font-size="20" font-family="Liberation Mono">INSIDE_UD</text>
<rect x="1051" y="1284" width="87" height="30" fill="#0a0a0a"/>
<text transform="translate(1066 1306) scale(1 1.25)" x="0" y="0" fill="#c8c8c8" stroke="#c8c8c8" stroke-width="0.3" font-size="20" font-family="Liberation Mono">KD_UD</text>
<rect x="1141" y="1284" width="100" height="30" fill="#0a0a0a"/>
<text transform="translate(1156 1306) scale(1 1.25)" x="0" y="0" fill="#c8c8c8" stroke="#c8c8c8" stroke-width="0.3" font-size="20" font-family="Liberation Mono">KDJ_UD</text>
<rect x="1245" y="1289" width="87" height="25" fill="#0a0a0a"/>
<text transform="translate(1260 1306) scale(1 1.25)" x="0" y="0" fill="#c8c8c8" stroke="#c8c8c8" stroke-width="0.3" font-size="20" font-family="Liberation Mono">MA_UD</text>
<rect x="1335" y="1289" width="114" height="25" fill="#0a0a0a"/>
<text transform="translate(1350 1306) scale(1 1.25)" x="0" y="0" fill="#c8c8c8" stroke="#c8c8c8" stroke-width="0.3" font-size="20" font-family="Liberation Mono">MACD_UD</text>
<rect x="1452" y="1284" width="100" height="30" fill="#0a0a0a"/>
<text transform="translate(1467 1306) scale(1 1.25)" x="0" y="0" fill="#c8c8c8" stroke="#c8c8c8" stroke-width="0.3" font-size="20" font-family="Liberation Mono">MTM_UD</text>
<rect x="1556" y="1284" width="150" height="30" fill="#0a0a0a"/>
<text transform="translate(1571 1306) scale(1 1.25)" x="0" y="0" fill="#c8c8c8" stroke="#c8c8c8" stroke-width="0.3" font-size="20" font-family="Liberation Mono">OUTSIDE_UD</text>
<rect x="1709" y="1289" width="51" height="25" fill="#0a0a0a"/>
<text transform="translate(1724 1306) scale(1 1.25)" x="0" y="0" fill="#c8c8c8" stroke="#c8c8c8" stroke-width="0.3" font-size="20" font-family="Liberation Mono">&gt;&gt;</text>
<text x="1921" y="1289" fill="#e0e0e0" font-size="28" letter-spacing="4" font-family="Liberation Sans">FX678</text>
<rect x="0" y="0" width="40" height="100" fill="#232429"/>
<rect x="0" y="100" width="40" height="98" fill="#232429"/>
<rect x="0" y="199" width="40" height="100" fill="#232429"/>
<rect x="0" y="300" width="40" height="126" fill="#232429"/>
<rect x="0" y="102" width="38" height="92" fill="#ff6a00"/><path transform="translate(6.50,12.00) scale(1.0000)" d="M9,2 L2,10 M14,2 L22,10 M6,12 H18 V20 Q18,23 14,22 M11,12 Q10,19 4,23" fill="none" stroke="#b4b4b4" stroke-width="2.000" stroke-linecap="square" stroke-linejoin="miter"/>
<path transform="translate(6.50,41.00) scale(1.0000)" d="M2,5 H8 V19 H2 Z M2,12 H8 M10,8 H23 M19,2 V21 Q19,23 15,22 M12,12 L15,16" fill="none" stroke="#b4b4b4" stroke-width="2.000" stroke-linecap="square" stroke-linejoin="miter"/>
<path transform="translate(6.50,69.00) scale(1.0000)" d="M3,2 H21 V23 H3 Z M10,5 L6,10 M10,5 H16 L8,14 M9,8 L17,13 M10,16 L14,17 M9,19 L15,21" fill="none" stroke="#b4b4b4" stroke-width="2.000" stroke-linecap="square" stroke-linejoin="miter"/>
<path transform="translate(6.50,139.00) scale(1.0000)" d="M6,1 L2,7 L7,7 L2,13 L8,12 M1,20 L8,17 M11,8 H20 M10,14 H23 M14,2 Q16,16 22,22 M19,2 L21,4 M11,21 L20,17" fill="none" stroke="#fff" stroke-width="2.000" stroke-linecap="square" stroke-linejoin="miter"/>
<path transform="translate(6.50,167.00) scale(1.0000)" d="M3,2 H21 V23 H3 Z M10,5 L6,10 M10,5 H16 L8,14 M9,8 L17,13 M10,16 L14,17 M9,19 L15,21" fill="none" stroke="#fff" stroke-width="2.000" stroke-linecap="square" stroke-linejoin="miter"/>
<path transform="translate(6.50,209.00) scale(1.0000)" d="M4,2 L6,4 M3,6 V23 M8,3 H21 V21 Q21,23 18,22 M12,8 Q11,16 6,20 M12,12 L17,19" fill="none" stroke="#b4b4b4" stroke-width="2.000" stroke-linecap="square" stroke-linejoin="miter"/>
<path transform="translate(6.50,237.00) scale(1.0000)" d="M4,6 H20 V16 H4 Z M4,11 H20 M12,2 V20 Q12,22 15,22 H22 V19" fill="none" stroke="#b4b4b4" stroke-width="2.000" stroke-linecap="square" stroke-linejoin="miter"/>
<path transform="translate(6.50,265.00) scale(1.0000)" d="M3,2 H21 V23 H3 Z M10,5 L6,10 M10,5 H16 L8,14 M9,8 L17,13 M10,16 L14,17 M9,19 L15,21" fill="none" stroke="#b4b4b4" stroke-width="2.000" stroke-linecap="square" stroke-linejoin="miter"/>
<path transform="translate(6.50,312.00) scale(1.0000)" d="M12,2 L2,11 M12,2 L22,11 M7,12 H17 M5,15 H19 V22 H5 Z" fill="none" stroke="#b4b4b4" stroke-width="2.000" stroke-linecap="square" stroke-linejoin="miter"/>
<path transform="translate(6.50,341.00) scale(1.0000)" d="M6,1 L2,7 L7,7 L2,13 L8,12 M1,20 L8,17 M14,2 L11,8 M12,6 H21 V20 Q21,23 17,22 M14,11 L17,15" fill="none" stroke="#b4b4b4" stroke-width="2.000" stroke-linecap="square" stroke-linejoin="miter"/>
<path transform="translate(6.50,368.00) scale(1.0000)" d="M3,3 L5,5 M2,10 L6,7 M10,2 L8,6 H20 L17,9 M14,6 L10,11 M14,6 L20,11 M6,12 H18 V19 H6 Z M12,14 V18 L7,23 M13,19 L19,23" fill="none" stroke="#b4b4b4" stroke-width="2.000" stroke-linecap="square" stroke-linejoin="miter"/>
<path transform="translate(6.50,396.00) scale(1.0000)" d="M2,9 H11 M6.5,2 V23 M3,4 L4,7 M10,4 L9,7 M6,10 L2,18 M7,10 L11,15 M14,5 L16,7 M13,10 L16,12 M12,16 H23 M19,2 V23" fill="none" stroke="#b4b4b4" stroke-width="2.000" stroke-linecap="square" stroke-linejoin="miter"/><text x="20" y="129" fill="#fff" font-size="18" font-family="Liberation Serif" text-anchor="middle" font-weight="bold">K</text>
</svg>
</body></html>
